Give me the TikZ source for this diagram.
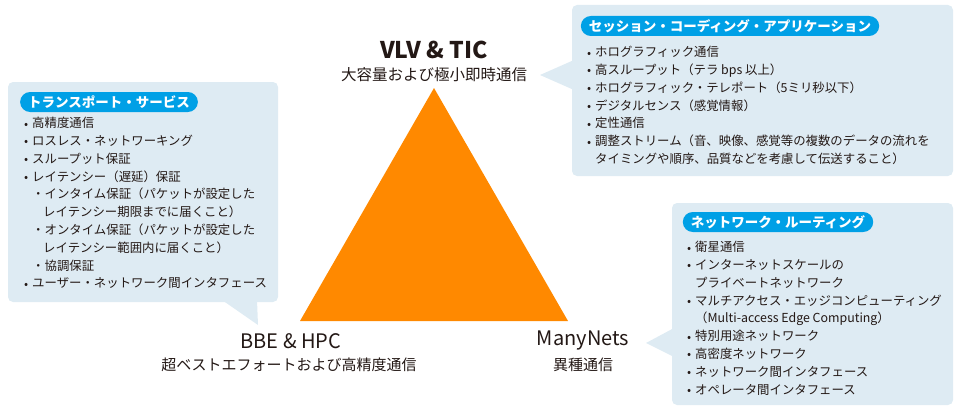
\documentclass[tikz,border=0pt]{standalone}
\usepackage{fontspec}
\setmainfont{Noto Sans CJK JP}
\definecolor{panelblue}{RGB}{222, 235, 243}
\definecolor{tagblue}{RGB}{0, 160, 230}
\definecolor{triorange}{RGB}{255, 137, 0}
\definecolor{inkgray}{RGB}{35, 24, 21}
\usetikzlibrary{positioning}
\tikzset{
	panel/.style={rectangle, rounded corners=5pt, fill=panelblue, inner sep=0pt},
	tail/.style={fill=panelblue},
	tag/.style={rectangle, rounded corners=10pt, fill=tagblue, text=white, inner xsep=8pt, inner ysep=0pt, minimum height=20pt, font=\fontsize{13.5}{15}\selectfont\bfseries},
	itemlist/.style={anchor=north west, inner sep=0pt, align=left, text=inkgray, font=\fontsize{12.4}{17.8}\selectfont},
	vertexname/.style={text=inkgray, inner sep=0pt, font=\fontsize{20}{22}\selectfont},
	vertexsub/.style={text=inkgray, inner sep=0pt, font=\fontsize{15}{17}\selectfont},
}
\newcommand\bul{\makebox[8pt][l]{\raisebox{-0.5pt}{\large•}}}
\newcommand\bulc{\hspace*{8pt}}

\begin{document}
\begin{tikzpicture}[x=1pt, y=-1pt]
		\useasboundingbox (0,0) rectangle (960,412);
		\node[panel, minimum width=270pt, minimum height=220pt] (transpanel) at (143,192) {};
		\node[panel, minimum width=381pt, minimum height=171pt] (sesspanel) at (762.5,90.5) {};
		\node[panel, minimum width=281pt, minimum height=202pt] (netpanel) at (812.5,304) {};
		\fill[tail] (222,300) -- (258,325) -- (257,300) -- cycle;
		\fill[tail] (574,60) -- (540,75) -- (574,90) -- cycle;
		\fill[tail] (674,328) -- (646,343) -- (674,357) -- cycle;
		\coordinate (apex) at (434,88);
		\coordinate (baseleft) at (300,321);
		\coordinate (baseright) at (568,321);
		\fill[triorange] (apex) -- (baseleft) -- (baseright) -- cycle;
		\node[tag] (transtag) at (109,102) {トランスポート・サービス};
		\node[tag] (sesstag) at (730,26) {セッション・コーディング・アプリケーション};
		\node[tag] (nettag) at (778,222) {ネットワーク・ルーティング};
		\node[itemlist] (translist) at (24,117) {\bul 高精度通信\\
			\bul ロスレス・ネットワーキング\\
			\bul スループット保証\\
			\bul レイテンシー（遅延）保証\\
			\bulc ・インタイム保証（パケットが設定した\\
			\hspace*{19pt}レイテンシー期限までに届くこと）\\
			\bulc ・オンタイム保証（パケットが設定した\\
			\hspace*{19pt}レイテンシー範囲内に届くこと）\\
			\bulc ・協調保証\\
			\bul ユーザー・ネットワーク間インタフェース};
		\node[itemlist] (sesslist) at (587,46) {\bul ホログラフィック通信\\
			\bul 高スループット（テラ bps 以上）\\
			\bul ホログラフィック・テレポート（5ミリ秒以下）\\
			\bul デジタルセンス（感覚情報）\\
			\bul 定性通信\\
			\bul 調整ストリーム（音、映像、感覚等の複数のデータの流れを\\
			\bulc タイミングや順序、品質などを考慮して伝送すること）};
		\node[itemlist] (netlist) at (687,241) {\bul 衛星通信\\
			\bul インターネットスケールの\\
			\bulc プライベートネットワーク\\
			\bul マルチアクセス・エッジコンピューティング\\
			\bulc （Multi-access Edge Computing）\\
			\bul 特別用途ネットワーク\\
			\bul 高密度ネットワーク\\
			\bul ネットワーク間インタフェース\\
			\bul オペレータ間インタフェース};
		\node[vertexname, font=\fontsize{23}{25}\selectfont\bfseries] (vlv) at (434,50) {VLV \& TIC};
		\node[vertexsub, font=\fontsize{15.5}{17}\selectfont] (vlvsub) at (434,75) {大容量および極小即時通信};
		\node[vertexname] (bbe) at (291,341) {BBE \& HPC};
		\node[vertexsub] (bbesub) at (289,365) {超ベストエフォートおよび高精度通信};
		\node[vertexname] (many) at (583,341) {ManyNets};
		\node[vertexsub] (manysub) at (583,365) {異種通信};
	\end{tikzpicture}
\end{document}
